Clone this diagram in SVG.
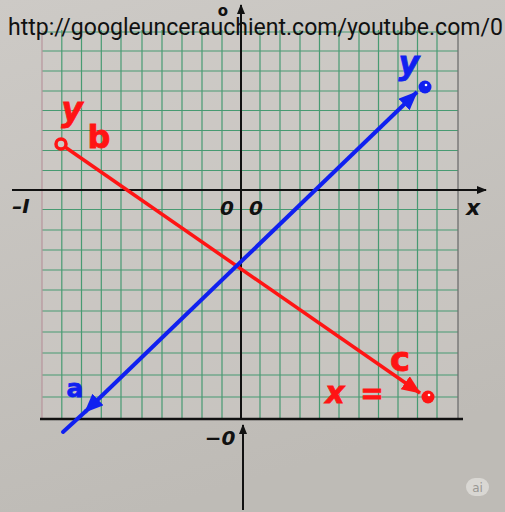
<svg xmlns="http://www.w3.org/2000/svg" width="505" height="512" viewBox="0 0 505 512">
<defs>
<linearGradient id="paper" x1="0" y1="0" x2="0.3" y2="1">
<stop offset="0" stop-color="#cdcac6"/>
<stop offset="1" stop-color="#bebbb6"/>
</linearGradient>
<marker id="arR" markerUnits="userSpaceOnUse" markerWidth="24" markerHeight="24" refX="18" refY="8" orient="auto" viewBox="0 0 24 24">
<path d="M0,0 L19,8 L0,16 Z" fill="#ff1414"/>
</marker>
<marker id="arB" markerUnits="userSpaceOnUse" markerWidth="24" markerHeight="24" refX="18" refY="8" orient="auto-start-reverse" viewBox="0 0 24 24">
<path d="M0,0 L19,8 L0,16 Z" fill="#1020f0"/>
</marker>
<marker id="arK" markerUnits="userSpaceOnUse" markerWidth="12" markerHeight="12" refX="9" refY="4" orient="auto" viewBox="0 0 12 12">
<path d="M0,0 L10,4 L0,8 Z" fill="#111"/>
</marker>
</defs>
<style>
.g{stroke:#3a966a;stroke-width:1.2;opacity:0.9}
.ax{stroke:#111;stroke-width:2;fill:none}
.lbl{font-family:"DejaVu Sans",sans-serif;font-weight:bold;fill:#111}
.red{font-family:"DejaVu Sans",sans-serif;font-weight:bold;fill:#ff1414;stroke:#ff1414;stroke-width:0.8}
.blue{font-family:"DejaVu Sans",sans-serif;font-weight:bold;fill:#1020f0;stroke:#1020f0;stroke-width:0.8}
.rl{stroke:#ff1414;stroke-width:3.5;fill:none}
.bl{stroke:#1020f0;stroke-width:4;fill:none}
</style>
<rect width="505" height="512" fill="url(#paper)"/>
<g id="grid">
<rect x="42" y="30" width="416" height="389" fill="#cfccc7" opacity="0.5"/>
<g class="g">
<line x1="61.8" y1="30" x2="61.8" y2="419"/>
<line x1="81.5" y1="30" x2="81.5" y2="419"/>
<line x1="101.3" y1="30" x2="101.3" y2="419"/>
<line x1="121" y1="30" x2="121" y2="419"/>
<line x1="142" y1="30" x2="142" y2="419"/>
<line x1="162" y1="30" x2="162" y2="419"/>
<line x1="182" y1="30" x2="182" y2="419"/>
<line x1="202" y1="30" x2="202" y2="419"/>
<line x1="222" y1="30" x2="222" y2="419"/>
<line x1="260" y1="30" x2="260" y2="419"/>
<line x1="280" y1="30" x2="280" y2="419"/>
<line x1="300" y1="30" x2="300" y2="419"/>
<line x1="319.5" y1="30" x2="319.5" y2="419"/>
<line x1="339" y1="30" x2="339" y2="419"/>
<line x1="359" y1="30" x2="359" y2="419"/>
<line x1="378.5" y1="30" x2="378.5" y2="419"/>
<line x1="398" y1="30" x2="398" y2="419"/>
<line x1="417.5" y1="30" x2="417.5" y2="419"/>
<line x1="437" y1="30" x2="437" y2="419"/>
<line x1="42" y1="32" x2="458" y2="32"/>
<line x1="42" y1="51" x2="458" y2="51"/>
<line x1="42" y1="71" x2="458" y2="71"/>
<line x1="42" y1="91" x2="458" y2="91"/>
<line x1="42" y1="110.5" x2="458" y2="110.5"/>
<line x1="42" y1="130.5" x2="458" y2="130.5"/>
<line x1="42" y1="150.5" x2="458" y2="150.5"/>
<line x1="42" y1="170.5" x2="458" y2="170.5"/>
<line x1="42" y1="209.5" x2="458" y2="209.5"/>
<line x1="42" y1="230" x2="458" y2="230"/>
<line x1="42" y1="250" x2="458" y2="250"/>
<line x1="42" y1="270" x2="458" y2="270"/>
<line x1="42" y1="290" x2="458" y2="290"/>
<line x1="42" y1="311" x2="458" y2="311"/>
<line x1="42" y1="332" x2="458" y2="332"/>
<line x1="42" y1="353" x2="458" y2="353"/>
<line x1="42" y1="375" x2="458" y2="375"/>
<line x1="42" y1="397" x2="458" y2="397"/>
</g>
<line x1="42" y1="30" x2="42" y2="419" stroke="#b8949c" stroke-width="1.2"/>
<line x1="458" y1="30" x2="458" y2="419" stroke="#6f6f6f" stroke-width="1.3"/>
</g>
<g id="axes">
<line class="ax" x1="241" y1="419" x2="241" y2="5" marker-end="url(#arK)"/>
<line class="ax" x1="12" y1="190" x2="486" y2="190" marker-end="url(#arK)"/>
<line x1="40" y1="419" x2="463" y2="419" stroke="#111" stroke-width="2.5"/>
<line class="ax" x1="243" y1="510" x2="243" y2="425" marker-end="url(#arK)"/>
</g>
<g id="url-text">
<text x="8" y="35" font-family="Roboto, 'Liberation Sans', sans-serif" font-size="23" fill="#111" textLength="495" lengthAdjust="spacingAndGlyphs">http://googleuncerauchient.com/youtube.com/0</text>
</g>
<g id="axis-labels">
<text class="lbl" x="223" y="16" font-size="15" text-anchor="middle">o</text>
<text class="lbl" x="21" y="213" font-size="20" font-style="italic" text-anchor="middle">–I</text>
<text class="lbl" x="227" y="215" font-size="20" font-style="italic" text-anchor="middle">0</text>
<text class="lbl" x="256" y="215" font-size="20" font-style="italic" text-anchor="middle">0</text>
<text class="lbl" x="473" y="215" font-size="22" font-style="italic" text-anchor="middle">x</text>
<text class="lbl" x="220" y="445" font-size="20" font-style="italic" text-anchor="middle">−0</text>
</g>
<g id="connectors">
<line class="rl" x1="65" y1="147" x2="420" y2="393" marker-end="url(#arR)"/>
<line class="bl" x1="417" y1="92" x2="85" y2="412" marker-start="url(#arB)" marker-end="url(#arB)"/>
<line class="bl" x1="86" y1="411" x2="63" y2="432" stroke-linecap="round"/>
</g>
<g id="node-red-start">
<circle cx="61" cy="144" r="5" fill="#cdcac6" stroke="#ff1414" stroke-width="3.5"/>
<text class="red" x="72" y="121" font-size="33" font-style="italic" text-anchor="middle">y</text>
<text class="red" x="99" y="148" font-size="32" text-anchor="middle">b</text>
</g>
<g id="node-red-end">
<circle cx="428" cy="397" r="6.5" fill="#ff1414"/>
<circle cx="429" cy="395" r="1.3" fill="#fff"/>
<text class="red" x="400" y="371" font-size="34" text-anchor="middle">c</text>
<text class="red" x="335" y="403" font-size="30" font-style="italic" text-anchor="middle">x</text>
<text class="red" x="372" y="403" font-size="28" text-anchor="middle">=</text>
</g>
<g id="node-blue-end">
<circle cx="425" cy="87" r="6.5" fill="#1020f0"/>
<circle cx="426" cy="85" r="1.3" fill="#fff"/>
<text class="blue" x="409" y="74" font-size="32" font-style="italic" text-anchor="middle">y</text>
</g>
<g id="node-blue-start">
<text class="blue" x="75" y="397" font-size="25" text-anchor="middle">a</text>
</g>
<g id="badge">
<rect x="466" y="478" width="23" height="18" rx="9" fill="#d9d7d3"/>
<text x="477.5" y="492" font-family="'DejaVu Sans',sans-serif" font-size="12" fill="#9a9894" text-anchor="middle">ai</text>
</g>
</svg>
